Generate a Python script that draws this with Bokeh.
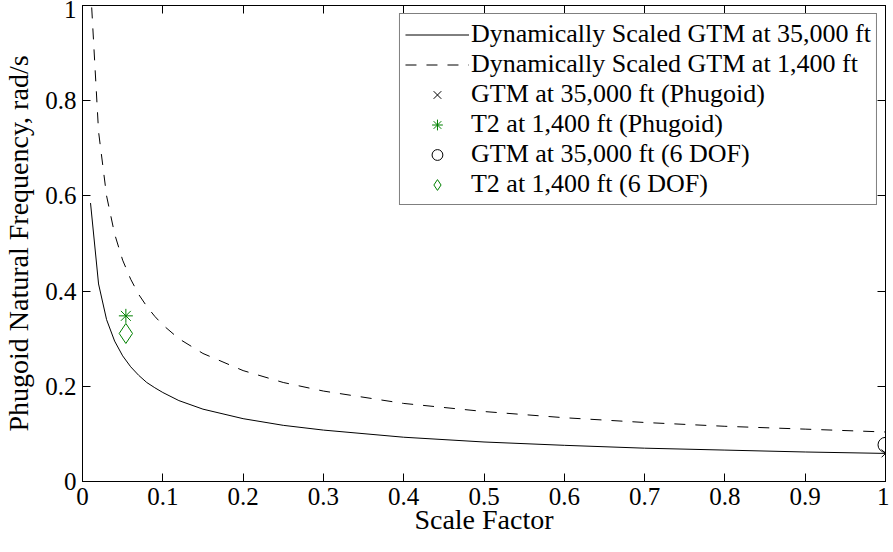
from bokeh.plotting import figure
from bokeh.models import Range1d, FixedTicker, LinearAxis, Legend, LegendItem, CustomJSTickFormatter
from bokeh.embed import file_html
from bokeh.resources import INLINE

# ---- data ----
scale = [0.01, 0.02, 0.03, 0.04, 0.05, 0.06, 0.07, 0.08, 0.09, 0.10, 0.12, 0.15,
         0.20, 0.25, 0.30, 0.40, 0.50, 0.60, 0.70, 0.80, 0.90, 1.00]
freq_35000 = [0.585, 0.415, 0.340, 0.295, 0.264, 0.241, 0.223, 0.208, 0.197, 0.187, 0.170, 0.152,
              0.132, 0.118, 0.108, 0.093, 0.083, 0.076, 0.070, 0.066, 0.062, 0.059]
freq_1400 = [1.040, 0.735, 0.600, 0.520, 0.465, 0.425, 0.393, 0.368, 0.347, 0.329, 0.300, 0.269,
             0.233, 0.208, 0.190, 0.164, 0.147, 0.134, 0.124, 0.116, 0.110, 0.104]

gtm_phugoid_x = [1.0]
gtm_phugoid_y = [0.059]
t2_phugoid_x = [0.054]
t2_phugoid_y = [0.348]
gtm_6dof_x = [1.0]
gtm_6dof_y = [0.077]
t2_6dof_x = [0.054]
t2_6dof_y = [0.311]

x_ticks = [0, 0.1, 0.2, 0.3, 0.4, 0.5, 0.6, 0.7, 0.8, 0.9, 1.0]
x_tick_labels = ["0", "0.1", "0.2", "0.3", "0.4", "0.5", "0.6", "0.7", "0.8", "0.9", "1"]
y_ticks = [0, 0.2, 0.4, 0.6, 0.8, 1.0]
y_tick_labels = ["0", "0.2", "0.4", "0.6", "0.8", "1"]

labels = ["Dynamically Scaled GTM at 35,000 ft",
          "Dynamically Scaled GTM at 1,400 ft",
          "GTM at 35,000 ft (Phugoid)",
          "T2 at 1,400 ft (Phugoid)",
          "GTM at 35,000 ft (6 DOF)",
          "T2 at 1,400 ft (6 DOF)"]

FONT = "Liberation Serif"
GREEN = "#008000"

p = figure(frame_width=803, frame_height=476, output_backend="svg", toolbar_location=None,
           x_range=Range1d(0, 1), y_range=Range1d(0, 1),
           min_border_left=77, min_border_right=4, min_border_top=5, min_border_bottom=10)
p.background_fill_color = "white"
p.border_fill_color = "white"
p.outline_line_color = "black"
p.outline_line_width = 1
p.xgrid.visible = False
p.ygrid.visible = False

r1 = p.line(scale, freq_35000, line_color="black", line_width=1)
r2 = p.line(scale, freq_1400, line_color="black", line_width=1, line_dash="11 10")
r3 = p.scatter(gtm_phugoid_x, gtm_phugoid_y, marker="x", size=11, line_color="black", line_width=1)
r4 = p.scatter(t2_phugoid_x, t2_phugoid_y, marker="asterisk", size=14, line_color=GREEN, line_width=1)
r5 = p.scatter(gtm_6dof_x, gtm_6dof_y, marker="circle", size=15, line_color="black",
               fill_color=None, line_width=1)
r6 = p.scatter(t2_6dof_x, t2_6dof_y, marker="diamond", size=20, line_color=GREEN,
               fill_color=None, line_width=1)

def style_axis(ax, ticks, show_labels):
    ax.ticker = FixedTicker(ticks=ticks)
    ax.major_tick_in = 8
    ax.major_tick_out = 0
    ax.minor_tick_line_color = None
    ax.axis_line_color = "black"
    ax.major_tick_line_color = "black"
    if show_labels:
        ax.major_label_text_font = FONT
        ax.major_label_text_font_size = "25px"
        ax.major_label_text_color = "black"
        ax.axis_label_text_font = FONT
        ax.axis_label_text_font_size = "28px"
        ax.axis_label_text_font_style = "normal"
        ax.axis_label_text_color = "black"
    else:
        ax.formatter = CustomJSTickFormatter(code="return ''")
        ax.major_label_standoff = 0

xa = p.xaxis[0]
ya = p.yaxis[0]
style_axis(xa, x_ticks, True)
style_axis(ya, y_ticks, True)
xa.major_label_overrides = {t: l for t, l in zip(x_ticks, x_tick_labels)}
ya.major_label_overrides = {t: l for t, l in zip(y_ticks, y_tick_labels)}
xa.axis_label = "Scale Factor"
ya.axis_label = "Phugoid Natural Frequency, rad/s"
xa.major_label_standoff = 6
xa.axis_label_standoff = -4
ya.major_label_standoff = 6
ya.axis_label_standoff = 8

top = LinearAxis()
right = LinearAxis()
p.add_layout(top, "above")
p.add_layout(right, "right")
style_axis(top, x_ticks, False)
style_axis(right, y_ticks, False)

legend = Legend(items=[LegendItem(label=l, renderers=[r]) for l, r in
                       zip(labels, [r1, r2, r3, r4, r5, r6])],
                location="top_right")
legend.label_text_font = FONT
legend.label_text_font_size = "26px"
legend.label_text_color = "black"
legend.label_height = 27
legend.glyph_height = 27
legend.glyph_width = 64
legend.label_standoff = 2
legend.spacing = 0
legend.padding = 5
legend.margin = 8
legend.border_line_color = "black"
legend.border_line_width = 1
legend.background_fill_color = "white"
legend.background_fill_alpha = 1
p.add_layout(legend, "center")

open("out.html", "w").write(file_html(p, INLINE))
